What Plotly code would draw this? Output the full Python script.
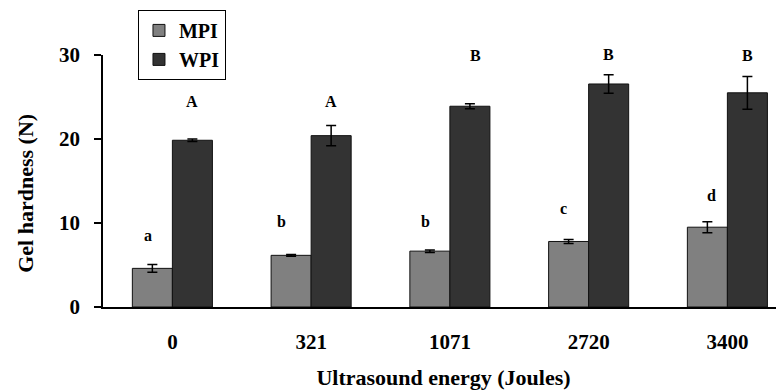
import plotly.graph_objects as go

categories = ["0", "321", "1071", "2720", "3400"]
mpi = [4.6, 6.15, 6.65, 7.8, 9.5]
mpi_err = [0.45, 0.1, 0.15, 0.25, 0.65]
wpi = [19.85, 20.4, 23.9, 26.55, 25.5]
wpi_err = [0.15, 1.2, 0.3, 1.1, 1.95]
mpi_letters = ["a", "b", "b", "c", "d"]
mpi_letter_y = [8.5, 10.2, 10.2, 11.7, 13.3]
wpi_letters = ["A", "A", "B", "B", "B"]
wpi_letter_y = [24.5, 24.5, 29.95, 30.0, 29.9]

# label pixel nudges (layout only)
MPI_SHIFT = [-24, -30, -24, -25, -16]
WPI_SHIFT = [20, 20, 26, 20, 20]

FONT = "Liberation Serif, Times New Roman, serif"

fig = go.Figure()
fig.add_trace(go.Bar(
    name="MPI", x=categories, y=mpi,
    marker=dict(color="#808080", line=dict(color="#111111", width=1)),
    error_y=dict(type="data", array=mpi_err, color="black", thickness=1.5, width=5),
))
fig.add_trace(go.Bar(
    name="WPI", x=categories, y=wpi,
    marker=dict(color="#333333", line=dict(color="#111111", width=1)),
    error_y=dict(type="data", array=wpi_err, color="black", thickness=1.5, width=5),
))

for i, c in enumerate(categories):
    fig.add_annotation(x=i, y=mpi_letter_y[i], text=mpi_letters[i], showarrow=False,
                       xshift=MPI_SHIFT[i], font=dict(family=FONT, size=16, color="black", weight="bold"))
    fig.add_annotation(x=i, y=wpi_letter_y[i], text=wpi_letters[i], showarrow=False,
                       xshift=WPI_SHIFT[i], yshift=1 if i == 3 else 0,
                       font=dict(family=FONT, size=16, color="black", weight="bold"))

fig.add_annotation(xref="paper", yref="paper", x=-0.115, y=0.452, xanchor="center", yanchor="middle",
                   text="Gel hardness (N)", textangle=-90, showarrow=False,
                   font=dict(family=FONT, size=22, color="black", weight="bold"))

fig.update_layout(
    width=776, height=383,
    margin=dict(l=95, r=0, t=47, b=84, autoexpand=False),
    paper_bgcolor="white", plot_bgcolor="white",
    barmode="group", bargap=0.423, bargroupgap=0,
    font=dict(family=FONT, color="black"),
    showlegend=True,
    legend=dict(xref="container", yref="container", x=0.1675, y=0.995,
                xanchor="left", yanchor="top",
                bordercolor="black", borderwidth=1, bgcolor="white",
                font=dict(family=FONT, size=20, color="black", weight="bold"),
                itemwidth=30, tracegroupgap=0),
    xaxis=dict(
        type="category", automargin=True,
        range=[-0.5, 4.408], showgrid=False, showline=True, linecolor="black", linewidth=1.5,
        ticks="", tickfont=dict(family=FONT, size=21, color="black", weight="bold"),
        ticklabelstandoff=15,
        title=dict(text="Ultrasound energy (Joules)", standoff=17,
                   font=dict(family=FONT, size=22, color="black", weight="bold")),
    ),
    yaxis=dict(
        automargin=True,
        range=[0, 30], tickvals=[0, 10, 20, 30], showgrid=False, zeroline=False,
        showline=True, linecolor="black", linewidth=1.5,
        ticks="outside", ticklen=7, tickcolor="black", tickwidth=1.5,
        tickfont=dict(family=FONT, size=21, color="black", weight="bold"),
        ticklabelstandoff=10,
    ),
)

fig.write_html("out.html")
